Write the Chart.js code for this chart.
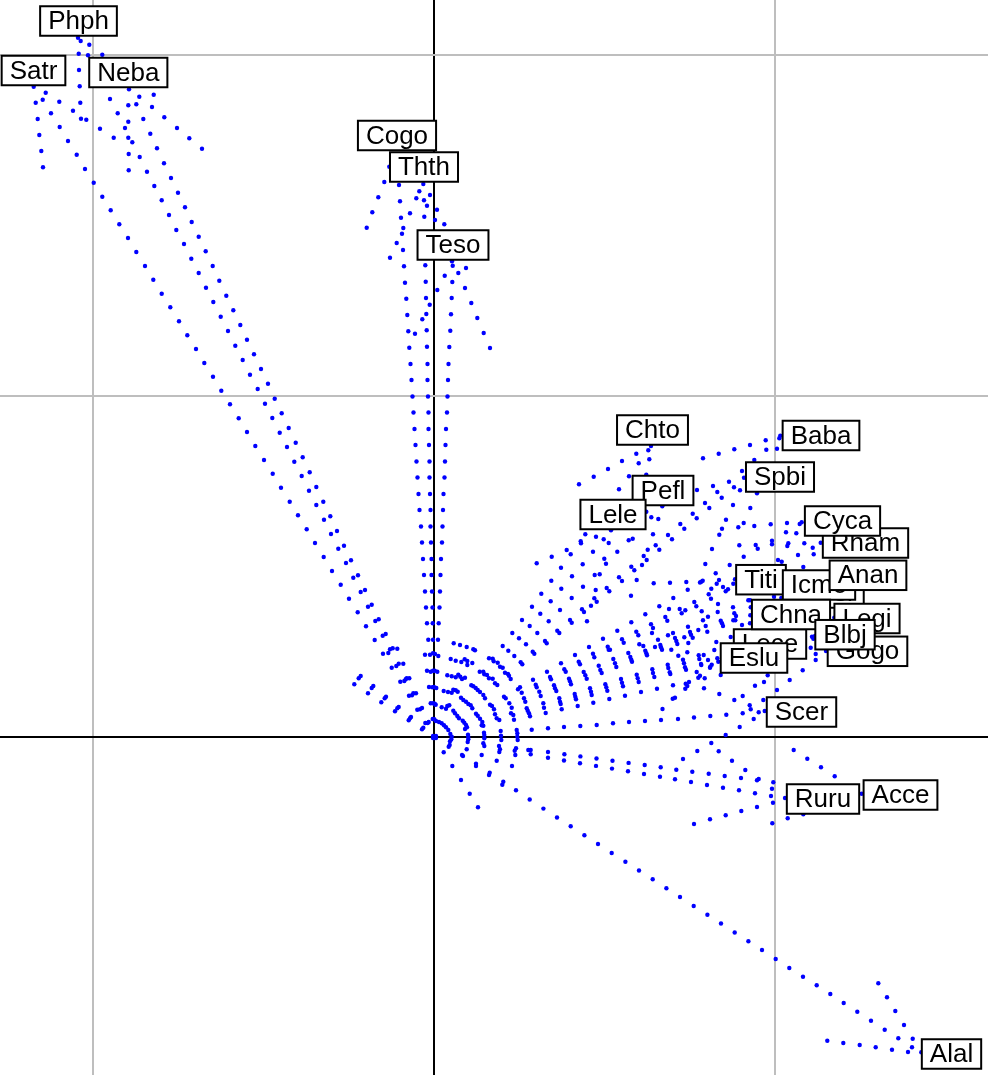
<!DOCTYPE html>
<html>
<head>
<meta charset="utf-8">
<title>Biplot</title>
<script src="https://cdn.jsdelivr.net/npm/chart.js@4/dist/chart.umd.min.js"></script>
<style>
html, body { margin: 0; padding: 0; background: #fff; }
#wrap { width: 988px; height: 1075px; }
</style>
</head>
<body>
<div id="wrap"><canvas id="biplot"></canvas></div>
<script>
// tick positions, in the plot's own units (grid step 341)
const xTicks = [-341, 0, 341];
const yTicks = [0, 341, 682];

// species labels, drawn in this order (later ones sit on top)
const labelNames = ['Phph','Satr','Neba','Cogo','Thth','Teso','Chto','Baba','Spbi','Pefl','Lele','Rham','Cyca','Titi','Absr','Icmo','Anan','Lece','Chna','Legi','Gogo','Blbj','Eslu','Scer','Ruru','Acce','Alal'];
const labelX = [-355.5,-400.5,-305.7,-37,-10,19,218.5,387,346,229,179,431.5,408.5,327,395,385,434,336,357,433,433.5,411,320,367.5,389,466.5,517.5];
const labelY = [716,666.5,664.5,601.5,570,492,307,301.5,260,246.5,222.5,194,216,157.3,144,152,161.7,93,122.5,118.5,85.7,102.3,79,25,-62,-58,-317];

// dots
const topLeft = [[-356,699.3],[-353.3,696],[-344.7,692.3],[-355.3,683.3],[-346,681.7],[-331.7,682.3],[-355,667],[-354.3,650.7],[-353.7,634.3],[-353,618.3],[-347.7,617.3],[-361,626.3],[-374.7,635.3],[-388.3,644.3],[-400.3,650.3],[-391.3,637.3],[-398.3,634.3],[-396.3,618],[-394.7,602],[-392.7,586],[-391,569.7],[-383,623.7]];
const satrTrack = [[-374.3,610],[-366,596],[-357.3,582.3],[-349,568],[-340.3,554.3],[-331.7,540.3],[-323.3,526.7],[-314.7,512.7],[-306,499],[-297.7,485],[-289,471],[-280.7,457.3],[-272.3,443.3],[-263.7,429.7],[-255,415.7],[-246.7,401.7],[-238,388],[-229.7,374],[-221,360.3],[-212.7,346.3],[-204,332.7],[-195.3,318.7],[-187,305],[-178.7,291],[-170,277],[-161.3,263.3],[-153,249.3],[-144.3,235.3],[-136,221.7],[-127.3,207.7],[-119,194],[-110.3,180],[-102,166],[-93.3,152.3],[-85,138.3],[-76.3,124.7],[-68,110.7],[-59.3,97]];
const nebaTop = [[-305,647.7],[-294.7,640.3],[-280.3,642.3],[-324,638],[-305.7,631.7],[-297.7,632.7],[-282,630],[-316.3,623.7],[-305.7,615.3],[-290.7,618],[-269.7,619.7],[-257,609],[-244.7,598.7],[-232,588.3],[-334,608.3],[-309,609],[-320.3,599.3],[-305.7,599.3],[-301.7,594.7],[-283.7,603.3],[-305.3,583],[-305.3,566.7],[-294.3,580]];
const nebaInner = [[-287,565.3],[-279.7,551],[-272.3,536.7],[-265,522],[-257.7,507],[-250,493],[-242.7,478.3],[-235.3,464],[-228,449.3],[-220.7,435],[-213.3,420.3],[-206,406],[-198.7,391.3],[-191.3,377],[-184,362.3],[-176.3,348],[-169,333.3],[-161.7,319],[-154.3,304.3],[-147,290],[-139.7,275.3],[-132.3,261],[-125,246.3],[-117.7,232],[-110,217.3],[-103,203],[-95.7,188.3],[-88,174],[-80.7,159.3],[-73.3,145],[-66,130.3],[-58.7,116],[-51.3,101.3],[-44,87.7]];
const nebaOuter = [[-277,588.7],[-270,573.7],[-263,559],[-256,544.3],[-249,529.7],[-242.3,515],[-235.3,500.3],[-228.3,485.7],[-221.3,471],[-214.7,456.3],[-207.7,441.3],[-200.7,426.7],[-193.7,412],[-187,397.3],[-180,382.7],[-173,368],[-166,353.3],[-159.3,338.3],[-152.3,323.7],[-145.3,309],[-138.3,294.3],[-131.3,279.7],[-124.3,264.7],[-117.7,250],[-110.7,235.3],[-103.7,220.7],[-97,206],[-90,191.3],[-83,176.7],[-76,161.7],[-69,147],[-62.3,132.3],[-55.3,117.7],[-48.3,103],[-41.3,88.7],[-36.7,88.3]];
const topMiddle = [[-44.7,570.3],[-49.7,555],[-55.7,539.7],[-61.7,524.7],[-67.3,509.3],[-35,552],[-34,535.7],[-33,519.3],[-30.7,509],[-32,503.3],[-37.3,494],[-31,487],[-44,479.3],[-30,470.7],[-29,454.3],[-27.7,438.3],[-26.7,422],[-25.7,405.7],[-24.7,389.3],[-19,403.3],[-11.7,417.7],[-4.3,432.3],[3.3,447],[10.7,461.3],[18,475.7],[-10.7,553],[-14.7,545.7],[-17.7,538.7],[-24,523.7],[-10,536.7],[-7,531.3],[-9.7,520.3],[-4,542],[3,527.3],[1,517],[10.3,512.7],[-8.7,471.7],[-8.3,455.3],[-8,439],[-7.7,423],[-7.3,406.7],[-7,390.3],[18.7,471.3],[18.3,455],[17.7,439],[17,422.7],[16.3,406.3],[15.3,390],[32,469],[24.3,464],[31,449],[37.3,434],[43.3,419],[49.7,404],[56,389]];
const columnLeft = [[-23.5,373],[-22.5,357],[-21.5,340.5],[-20.5,324.5],[-19.5,308],[-18.5,292],[-17.5,275.5],[-16.5,259.5],[-15.5,243],[-14.5,227],[-13,210.5],[-12,194.5],[-11,178],[-10,162],[-9,145.5],[-8,129.5],[-7,113.7],[-5.7,97.3]];
const columnMiddle = [[-6.5,373],[-6.5,357],[-6,340.5],[-5.5,324.5],[-5.5,308],[-5,292],[-4.5,275.5],[-4.5,259.5],[-4,243],[-3.5,227],[-3.5,210.5],[-3,194.5],[-2.5,178],[-2.5,162],[-2,145.5],[-1.5,129.5],[-1.3,113.7],[-1,97.3]];
const columnRight = [[14.5,373],[14,357],[13.5,340.5],[13,324.5],[12,308],[11.5,292],[11,275.5],[10.5,259.5],[9.5,243],[9,227],[8.5,210.5],[8,194.5],[7,178],[6.5,162],[6,145.5],[5.5,129.5],[4.7,113.7],[4,97.3]];
const axisCluster = [[-9,82.3],[-4,82.3],[-1,83.7],[1,83],[4.3,81],[-7,66.3],[-3.3,65.3],[-1,66.3],[0.7,66.3],[3.3,65.3],[-5,50],[-1.7,49.7],[0,50],[2.3,49],[-3.3,33.7],[-1,33.7],[0.7,33.3],[1.7,32.3],[-1.3,18],[0.3,17.7],[2,16],[1,0],[0,0],[-1,1],[2,-1],[0,-1],[2,1],[-1,-1]];
const leftCluster = [[-51,83.3],[-45.7,84],[-42.3,69.3],[-37.7,71],[-35.3,73.3],[-30.7,73.3],[-33.7,55.3],[-29.7,56],[-28.3,57.7],[-27.3,58.7],[-24.7,58.7],[-25,41.3],[-22,41.7],[-20.7,43.7],[-18,43.7],[-16.7,27.3],[-14,27.7],[-12,29],[-8.7,14],[-6.3,14],[-5.3,15],[-79.7,52.7],[-75.3,58.7],[-73.3,61],[-66,43.7],[-62.3,49],[-60.7,51],[-52.7,34.7],[-49.3,38.7],[-48,40.3],[-39,25.7],[-36.7,28.7],[-35.3,30],[-25.3,16.7],[-24,18.7],[-23,20],[-12,7.7],[-10.7,9.3]];
const arcOne = [[5,15],[7.7,13.7],[10,11.7],[12,9.7],[14.3,7],[16.3,3],[17.7,0.3],[17.3,-2.3],[16,-4.3],[15.7,-8],[14.7,-9.7],[9.7,-15.3]];
const arcTwo = [[7.7,29.7],[12,28.3],[13.3,31],[15.3,31.7],[19.3,26.3],[21,23.7],[23.3,21],[25,18.7],[28.7,16.3],[30.3,14.3],[32,12],[33,9.7],[31,8],[34,2.3],[34.3,0],[34.3,-2.3],[33.7,-5],[32.7,-12.3],[28,-18],[29,-19],[18.3,-29]];
const arcThree = [[9.7,46],[14,45],[17.7,44.3],[19.3,47.3],[21.7,46.7],[23.7,45.3],[27,39.3],[29.3,37],[32,35.3],[34.3,33],[36.7,31.7],[38.3,28.7],[42,23.3],[43.7,21.3],[46,18.3],[48.3,15],[47.7,11.7],[49.3,11.3],[50,4.3],[50.3,2],[50.3,-1.3],[49.3,-6.3],[50.3,-9],[47.7,-18],[42,-26.7],[42,-29],[27,-43]];
const arcFour = [[13.3,61.7],[17.7,60.7],[21.7,59.7],[24.3,62.3],[26.3,60.3],[28,58],[31,59.3],[37.3,51.7],[39.3,50.7],[41.7,49],[43.7,47],[46,45],[49.3,42],[51,38.7],[56,32.3],[58,31],[60,27.7],[61,22.7],[62.7,18.7],[65.3,17],[66.7,6],[67,1.3],[67.3,-3],[65,-9],[66,-12.3],[65.3,-15],[62.7,-23.7],[55.7,-35.7],[55,-38],[35.7,-56.7]];
const arcFive = [[16.7,78],[21.7,76.3],[27.3,75],[30.7,77.7],[33.3,76],[33.3,72],[38.3,74],[45.7,65.3],[49.3,65.3],[50.3,62.7],[53,62],[55,58.7],[58.7,58.3],[61,53.7],[63.3,52],[82,-11.3],[80.7,-13.7],[81.3,-18],[78,-29],[69.3,-44.7],[68.3,-47.7],[44,-70.3]];
const arcSix = [[19.7,93.7],[26,92],[32.7,90],[39.3,87.7],[41,86.7],[55,78.7],[58.7,78.3],[59.7,75.7],[63.7,74.3],[66,70.3],[94.3,-13],[96.7,-13],[96.7,-17.3]];
const fanNear = [[98,130.3],[116.7,135.7],[88,117],[106.3,123.3],[126,127],[148,127.7],[150,125],[157,131.3],[162.7,135.3],[78.3,104],[95.7,111],[114.7,115.7],[136,117],[137.7,114.3],[153,115.7],[68.7,91],[85,98.7],[103.3,104],[123.3,106.3],[125.3,104],[74.3,86.3],[92,92.7],[111,96],[112.7,93.7],[80.3,81],[98.7,85.3],[100.3,83.3],[169,98.3],[155,90],[173.7,90.3],[174.7,87.3],[86.7,74.7],[88.3,72.7],[141,82],[159,83.3],[160.3,79.7],[127,73.7],[144.7,75.3],[146,72.7],[164.7,71.3],[166.3,67],[167.7,64],[68.7,69.3],[71,64.3],[74,63],[75,61.3],[76.7,58],[113,65.3],[130.3,67.7],[131.7,65.3],[149.7,65],[151.3,61.7],[152.7,58.3],[171.3,52.7],[172.3,49.7],[173.3,46.3],[99,57.3],[116,60],[117,57.7],[135,58.3],[136,55.7],[137,52.7],[156,48.7],[157,45.3],[157.7,42],[84,47.7],[86,49.7],[87.7,44.3],[101.7,52.3],[102.7,49.7],[120,51.7],[121,48.7],[122.3,46],[140.7,43],[141.3,40.3],[142,37.7],[159.3,34.3],[175.3,38],[90,38.7],[91.3,35.3],[105.3,45.3],[106.7,41],[125.3,38.7],[126,35.3],[126.7,33],[143.7,31],[70,40.3],[71.7,38.7],[75.3,33.7],[77.7,29.3],[109.3,33.7],[110,29.3],[127.7,27.7],[92.7,28.7],[93.7,26.3],[95,23.7],[111.7,24],[96,20.7],[77,23.7],[79.3,22],[80,17.3]];
const scerRow = [[83.7,-3],[83.3,0.3],[83.3,3.7],[82.7,7],[97.7,7.3],[114,8.7],[130,10],[146.3,11],[162.7,12],[179,13.7],[195,15],[211,16],[227,17],[244,18],[260,19.5],[276.3,21],[292.3,22.3],[308.7,23.7],[324.7,24.7],[330.7,26],[228.5,28]];
const fanUpper = [[217,291],[214.3,286.7],[202.3,283.3],[215.3,277.7],[204.7,273.7],[188,276],[174,268],[159.7,260.3],[145,252.7],[195,260.7],[212.3,262.3],[185,247.7],[263,247],[228.3,230.7],[212.3,225.3],[217.3,219.7],[224.3,218],[258.7,223.3],[262.7,218.7],[246.3,213],[250.3,208.3],[219,202.7],[234,202],[238,197.7],[151.3,202.7],[162,200.3],[169.7,197.7],[174.7,194],[177,206.7],[146.7,195.7],[147,193.7],[132.7,187],[136.7,182.7],[117.7,180.3],[159,185.3],[183.3,185.3],[194.7,196.7],[198.7,198.3],[213.7,187.3],[221.7,191.7],[225.3,187.3],[209.7,181],[102.7,173.7],[127,169.3],[148.7,172.7],[170.3,178.3],[172,173.3],[138,160.7],[160.7,162],[165.7,162.7],[117.3,156.3],[149,150.3],[127.3,148.3],[107.3,143.3],[161.7,147],[172.7,149],[175.3,145.7],[137.7,139],[160.3,138.7]];
const fanMiddle = [[197.3,170.3],[200.3,166.7],[208,172],[212.7,177],[185,159.7],[188,156],[202.7,157],[219.7,153.7],[236,154.3],[252.3,155],[253.7,147.3],[197,141.3],[239.3,139],[260.3,135],[262.3,130.7],[225.3,130.7],[235,128],[245.7,128],[251.3,126.7],[247.7,123.7],[211.3,122.7],[231.3,120],[233.3,116.3],[197.3,114.7],[217,112.7],[219,109],[254,110.3],[264.3,107],[183.3,106.3],[202.3,105.3],[204.3,101.7],[218,104],[234,101.7],[239,104],[241,99],[242.3,96],[243.3,93],[256,105],[257,102.3],[258.7,99.3],[250.3,99.7],[254.3,94],[188,97.7],[189.7,94.3],[224,97.3],[205.3,92.7],[209.3,91],[221,90],[226.3,92],[227,89.7],[228,87.3],[211.3,86.3],[212.3,83.7],[213,81.7],[237.3,87.3],[253.3,84.7],[176,87.3],[194.3,84],[196.3,80],[197.3,77.3],[198,75.3],[244.3,81.3],[264.7,81.7],[265.3,78],[179.3,78],[181,73.7],[182.3,70],[249,77.3],[250,73.7],[251,69.7],[252,67.3],[233.7,72.3],[234.3,69],[235.7,64.7],[236.3,63],[218.3,67.7],[219,64],[220.3,60],[262.7,65],[264.3,59.3],[202.7,62.3],[203.7,58.7],[204.7,55],[187,58],[188,54.3],[189,50.7],[255,55],[251.7,53.3],[253.3,51],[251.3,48.3],[239,51.7],[223,48.3],[207,45],[191,41.3],[241,39.3],[238.7,38.3]];
const fanRight = [[345.3,298.7],[346.3,301.3],[343,288.3],[331.7,296.7],[332.3,287.3],[316,292],[300.3,287.7],[284.7,283.3],[269,278.7],[320.3,277],[308,266],[310,259.3],[295,255.3],[300,249.7],[279,251],[306,246.7],[283.3,245],[323,243.7],[287.7,239.3],[271,234],[275.3,229],[299,232],[316.3,229],[292,217.3],[309.7,214],[304.3,209.7],[288,208.3],[320.3,211],[336.7,212.7],[353,214],[365.7,213],[367.7,214.7],[285.3,202.3],[352,204.7],[362.3,203.7],[338,196.3],[338,192.7],[305.3,191.7],[321.7,192],[323.7,188.3],[354.3,193.7],[353.3,191],[370.3,193.7],[378.7,189.3],[386.7,194.3],[278,188],[309.7,180.3],[364,182],[379.7,182.7],[344,177],[347.7,175.3],[271.3,173],[295.7,172],[369.3,170],[281.7,163.7],[268.7,156.3],[266,154.5],[267.3,155.3],[285,157],[282.7,153.3],[299.3,153.3],[301,157.7],[289,150],[294,147.7],[291.7,145.7],[277.3,148.3],[274.7,142.7],[277,138.3],[314.3,136.7],[316,136.7],[340,140.3],[347.3,139],[284,133],[267.7,125.7],[283.7,125],[299,129.7],[316.7,129.7],[300.3,123.7],[302,121],[301.3,116.7],[299.3,116.7],[316.3,121.7],[286.7,116.3],[288,113.7],[289,111],[274,120.3],[269,116.7],[308,112],[316,113.7],[271.7,111],[273.3,105.3],[296.7,100],[282.3,95],[378,100.3],[379.3,98.3],[381,101],[400.3,119.3],[376.7,89.3],[381.7,83],[381.7,77],[392,86],[280.3,87],[274,77],[269.7,82],[267.3,72],[276.3,70.3],[283.3,78.7],[284.3,75.3],[267,73],[270.7,58.7],[266,61.3],[286.7,62],[270,48.7],[285.3,43],[277.7,72.3],[276,69.3],[333.7,61.7],[330,55],[321,51.3],[343,47],[355.7,57],[368.7,66.7],[300.3,37],[308.7,41],[315.7,31.7],[316.7,27.7],[329.3,37],[319.7,18],[305.7,10]];
const ruruUpper = [[114,-15],[130.4,-17.2],[146.4,-19.4],[162.5,-21.5],[178.5,-23.7],[194.6,-25.9],[210.7,-28],[226.7,-30.3],[242.3,-32.7],[258.3,-34.7],[274.7,-36.7],[290.7,-39],[307,-41],[323,-43.3],[324.7,-42],[339.3,-45.3]];
const ruruLower = [[114,-20.8],[130,-23.5],[146,-26.2],[162,-28.9],[178,-31.6],[194,-34.3],[210,-37],[226,-39.7],[241,-42.3],[257,-45],[273,-48],[289,-50.7],[305,-53.3],[321,-56.3],[338,-51.7],[337,-59],[339,-65.7],[351,-61]];
const ruruOther = [[291.7,2],[277.3,-6],[263.3,-14],[284.7,-14.3],[249,-22],[298,-23.7],[311.3,-33],[323,-70],[307.3,-74],[291.7,-78.3],[276,-82.3],[260,-87],[338.3,-86.3],[353.7,-81.3],[369.3,-77.3],[359.7,-13],[373.3,-21.7],[387,-30.3],[400.7,-39.3],[427.7,-56.7]];
const alalTrack = [[82,-53.3],[95.7,-62.5],[109.4,-71.6],[123,-80.5],[136.7,-89.3],[150.4,-98.2],[164,-107],[177.7,-116],[191.4,-124.7],[205,-133.5],[218.7,-142.3],[232.4,-151.3],[246,-160],[259.7,-169],[273.4,-177.7],[287,-186.5],[300.7,-195.5],[314.4,-204.3],[328,-213],[341.7,-222],[355.3,-231],[369,-239.7],[382.7,-248.3],[396.3,-257],[409.7,-266],[423.3,-274.7],[437,-283.7],[450.7,-292.7],[464.3,-301.3],[478,-310.3]];
const alalEnds = [[474,-315],[458,-312.7],[441.7,-310.3],[425.7,-308],[409.3,-306],[393.3,-303.7],[444.3,-246.3],[453,-260.3],[461.3,-274],[470,-288],[478.7,-301.7],[487.3,-315.3]];

const dotGroups = [topLeft, satrTrack, nebaTop, nebaInner, nebaOuter, topMiddle, columnLeft, columnMiddle, columnRight, axisCluster, leftCluster, arcOne, arcTwo, arcThree, arcFour, arcFive, arcSix, fanNear, scerRow, fanUpper, fanMiddle, fanRight, ruruUpper, ruruLower, ruruOther, alalTrack, alalEnds];

// boxed species names on top of the dots
const boxLabels = {
    id: 'boxLabels',
    afterDatasetsDraw(chart) {
        const c = chart.ctx;
        const sx = chart.scales.x;
        const sy = chart.scales.y;
        c.save();
        c.font = '26px "Liberation Sans"';
        c.textAlign = 'center';
        c.textBaseline = 'middle';
        c.lineWidth = 2;
        labelNames.forEach((name, i) => {
            const px = sx.getPixelForValue(labelX[i]);
            const py = sy.getPixelForValue(labelY[i]);
            const w = c.measureText(name).width + 16;
            const h = 29.5;
            c.fillStyle = '#fff';
            c.strokeStyle = '#000';
            c.fillRect(px - w / 2, py - h / 2, w, h);
            c.strokeRect(px - w / 2, py - h / 2, w, h);
            c.fillStyle = '#000';
            c.fillText(name, px, py + 1);
        });
        c.restore();
    }
};

const gridStyle = {
    color: ctx => (ctx.tick && ctx.tick.value === 0 ? '#000' : '#bebebe'),
    lineWidth: 2,
    drawTicks: false
};

new Chart(document.getElementById('biplot'), {
    type: 'scatter',
    data: {
        datasets: dotGroups.map(g => ({
            data: g.map(p => ({ x: p[0], y: p[1] })),
            backgroundColor: '#0000ff',
            borderWidth: 0,
            pointRadius: 2.2
        }))
    },
    options: {
        responsive: true,
        maintainAspectRatio: false,
        animation: false,
        layout: { padding: 0, autoPadding: false },
        plugins: { legend: { display: false }, tooltip: { enabled: false } },
        scales: {
            x: {
                type: 'linear',
                min: -434,
                max: 554,
                afterBuildTicks: s => { s.ticks = xTicks.map(v => ({ value: v })); },
                ticks: { display: false },
                border: { display: false },
                grid: gridStyle
            },
            y: {
                type: 'linear',
                min: -338,
                max: 737,
                afterBuildTicks: s => { s.ticks = yTicks.map(v => ({ value: v })); },
                ticks: { display: false },
                border: { display: false },
                grid: gridStyle
            }
        }
    },
    plugins: [boxLabels]
});
</script>
</body>
</html>
